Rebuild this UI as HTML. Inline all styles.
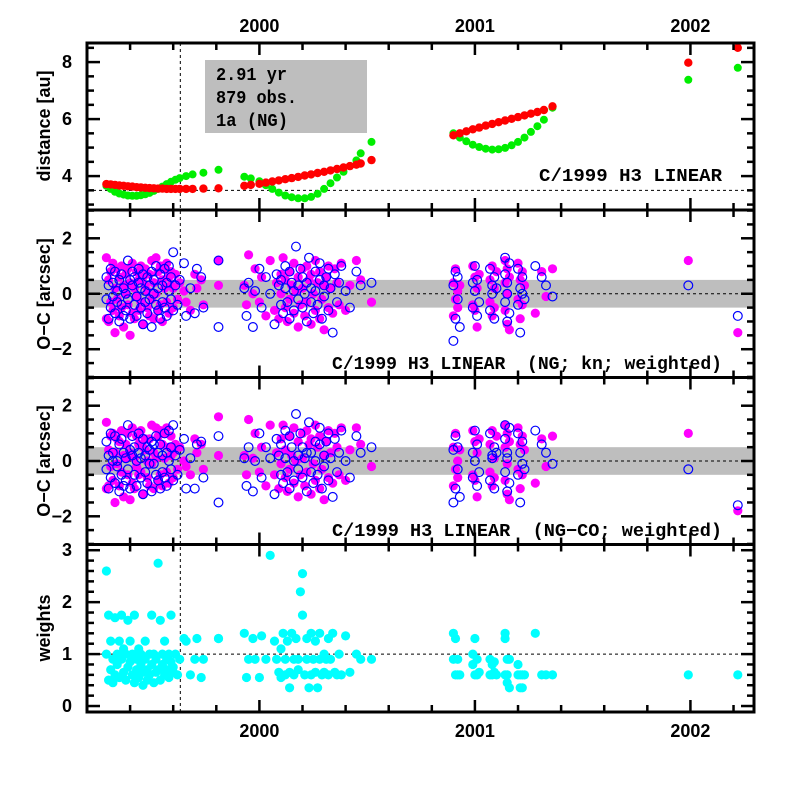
<!DOCTYPE html>
<html><head><meta charset="utf-8"><style>
html,body{margin:0;padding:0;background:#fff;}
svg{display:block;}
.tl{font-family:"Liberation Sans",sans-serif;font-weight:bold;font-size:18px;fill:#000;}
.an{font-family:"Liberation Mono",monospace;font-weight:bold;font-size:18px;fill:#000;white-space:pre;}
</style></head><body>
<svg id="chart" width="797" height="797" viewBox="0 0 797 797" xmlns="http://www.w3.org/2000/svg">
<g id="bg"></g>
<g id="marks"></g>
<g id="axes"></g>
<g id="txt"></g>
</svg>
<script>
// ---- distance panel data ----
const distTimes = [1999.29,1999.31,1999.33,1999.35,1999.37,1999.39,1999.41,1999.43,1999.45,1999.47,1999.49,1999.51,1999.53,1999.55,1999.57,1999.59,1999.61,1999.63,1999.66,1999.69,1999.74,1999.81,
1999.93,1999.96,2000.00,2000.03,2000.06,2000.09,2000.12,2000.15,2000.18,2000.21,2000.24,2000.27,2000.30,2000.33,2000.36,2000.39,2000.42,2000.45,2000.47,2000.52,
2000.90,2000.93,2000.96,2000.99,2001.02,2001.05,2001.08,2001.11,2001.14,2001.17,2001.20,2001.23,2001.26,2001.29,2001.32,2001.36,
2001.99,2002.22];
const distRed = [3.72,3.71,3.69,3.67,3.66,3.64,3.63,3.61,3.60,3.59,3.58,3.57,3.56,3.56,3.55,3.55,3.55,3.55,3.55,3.55,3.56,3.57,
3.66,3.69,3.73,3.77,3.81,3.85,3.89,3.93,3.97,4.02,4.06,4.11,4.15,4.20,4.25,4.30,4.35,4.40,4.44,4.56,
5.43,5.50,5.57,5.64,5.70,5.77,5.83,5.89,5.95,6.01,6.07,6.13,6.19,6.25,6.32,6.45,
7.98,8.50];
const distGreen = [3.66,3.55,3.45,3.39,3.35,3.32,3.31,3.31,3.33,3.36,3.41,3.48,3.55,3.63,3.72,3.80,3.87,3.93,4.00,4.06,4.12,4.22,
3.98,3.92,3.82,3.68,3.55,3.42,3.32,3.26,3.22,3.22,3.27,3.38,3.55,3.75,3.95,4.15,4.35,4.55,4.80,5.20,
5.50,5.35,5.22,5.10,5.02,4.96,4.93,4.94,4.99,5.08,5.20,5.35,5.55,5.75,5.98,6.40,
7.38,7.80];
// ---- observation times ----
const obsTimes = [1999.29,1999.29,1999.30,1999.30,1999.31,1999.31,1999.32,1999.32,1999.33,1999.33,1999.34,1999.34,1999.35,1999.35,1999.36,1999.36,1999.37,1999.37,1999.38,1999.38,1999.39,1999.39,1999.40,1999.40,1999.41,1999.41,1999.42,1999.42,1999.43,1999.43,1999.44,1999.44,1999.45,1999.45,1999.46,1999.46,1999.47,1999.47,1999.48,1999.48,1999.49,1999.49,1999.50,1999.50,1999.51,1999.51,1999.52,1999.52,1999.53,1999.53,1999.54,1999.54,1999.55,1999.55,1999.56,1999.56,1999.57,1999.57,1999.58,1999.58,1999.59,1999.59,1999.60,1999.60,1999.61,1999.62,1999.63,
1999.65,1999.66,1999.68,1999.70,1999.71,1999.73,1999.74,1999.81,1999.81,
1999.93,1999.94,1999.95,1999.97,1999.98,2000.00,2000.01,2000.03,2000.05,2000.07,2000.08,2000.09,2000.10,2000.10,2000.11,2000.12,2000.12,2000.13,2000.14,2000.14,2000.15,2000.16,2000.16,2000.17,2000.18,2000.18,2000.19,2000.20,2000.20,2000.21,2000.22,2000.22,2000.23,2000.24,2000.24,2000.25,2000.26,2000.26,2000.27,2000.28,2000.28,2000.29,2000.30,2000.30,2000.31,2000.32,2000.32,2000.33,2000.34,2000.35,2000.36,2000.37,2000.38,2000.40,2000.42,2000.45,2000.47,2000.52,
2000.90,2000.90,2000.91,2000.91,2000.92,2000.92,2000.93,2000.99,2000.99,2001.00,2001.00,2001.01,2001.01,2001.02,2001.07,2001.07,2001.08,2001.08,2001.09,2001.09,2001.10,2001.14,2001.14,2001.14,2001.15,2001.15,2001.15,2001.16,2001.16,2001.20,2001.20,2001.21,2001.21,2001.22,2001.22,2001.23,2001.28,2001.31,2001.33,2001.36,
2001.99,2002.22];
const ocMagentaKn = [1.3,-0.9,0.5,-1.0,0.8,-0.3,1.1,-0.6,0.2,-1.4,0.9,-0.2,0.6,-0.8,1.0,-0.5,0.3,-1.2,0.7,0.0,-0.4,0.9,-1.5,0.4,1.1,-0.7,0.2,-0.9,0.8,-0.1,0.5,-0.6,1.0,-0.3,0.6,-1.1,0.3,0.9,-0.5,0.1,-0.8,0.7,1.2,-0.2,0.4,-0.9,1.3,0.0,-0.6,0.8,1.0,-0.4,0.5,-1.0,0.2,0.9,-0.3,1.1,0.6,-0.7,0.3,0.8,-0.5,0.2,0.7,-0.2,0.4,
0.1,-0.3,-0.6,0.7,0.2,0.5,-0.4,1.2,0.3,
0.3,-0.4,1.4,0.0,0.9,-0.3,0.6,-0.8,1.2,-0.6,0.4,-0.9,0.7,0.0,1.3,-0.5,0.5,-1.0,0.8,-0.2,0.3,1.1,-0.7,0.1,-1.2,0.6,-0.4,0.9,0.2,-0.8,1.0,-0.3,0.5,-1.1,0.7,0.0,-0.6,1.2,0.4,-0.9,0.8,-0.2,0.3,-1.3,0.6,1.0,-0.5,0.2,-0.7,0.9,0.4,-0.4,1.1,-0.6,0.3,1.2,0.5,-0.3,
-0.8,0.4,-0.2,0.9,-0.5,0.1,0.3,-0.4,1.0,0.6,-0.6,0.2,-1.2,0.7,0.5,-0.3,1.0,-0.8,0.2,-0.5,0.8,1.2,-0.6,0.4,-1.1,0.9,0.0,-1.3,0.6,1.1,-0.2,0.5,-0.9,0.8,-0.4,0.3,-0.7,0.8,-0.1,0.9,
1.2,-1.4];
const ocBlueKn = [-0.2,0.6,-0.9,0.3,-0.5,0.9,-0.1,0.4,-0.7,0.8,-0.3,0.1,-1.0,0.5,-0.4,0.7,-0.8,0.2,0.0,-0.6,1.2,-0.2,0.5,-0.9,0.3,0.8,-0.4,0.6,-0.1,-0.8,0.4,0.9,-0.5,0.2,-1.1,0.7,-0.3,0.1,0.6,-0.7,0.3,-0.2,0.8,-1.2,0.5,0.0,-0.4,1.0,-0.6,0.2,-0.9,0.7,0.3,-0.3,0.9,-0.5,0.4,-0.8,0.1,1.0,-0.2,0.6,-0.6,1.5,0.3,-0.4,0.5,
1.1,-0.8,0.2,-0.7,0.9,0.6,-0.5,1.2,-1.2,
0.2,-0.8,0.4,-1.2,0.1,0.9,-0.5,0.6,0.0,-1.1,0.7,0.3,-0.4,0.5,-0.7,1.0,0.2,-0.3,0.8,-0.9,0.4,0.1,-0.6,1.7,0.3,-0.2,0.9,-0.5,0.6,0.0,-1.0,0.4,1.3,-0.3,0.2,-0.7,0.8,0.1,-0.4,0.5,1.1,-0.9,0.3,-0.1,0.6,-0.6,0.9,0.2,-1.4,0.7,-0.3,0.4,1.0,0.1,-0.5,0.8,0.3,0.4,
-1.7,0.3,-0.9,0.8,-0.2,0.6,-1.2,0.4,-0.5,1.0,0.1,-0.8,0.5,-0.3,0.9,-0.6,0.3,0.0,-0.9,0.6,0.2,1.3,-0.3,0.7,-1.0,0.4,0.0,-0.7,1.1,0.9,-0.4,0.2,-1.4,0.6,0.0,-0.2,1.0,0.6,0.3,-0.1,
0.3,-0.8];
const ocMagentaCo = [1.4,-1.0,0.4,-0.9,0.9,-0.2,1.0,-0.7,0.3,-1.5,0.8,-0.1,0.7,-0.9,1.1,-0.4,0.2,-1.3,0.6,0.1,-0.5,1.0,-1.4,0.3,1.2,-0.8,0.1,-1.0,0.9,-0.2,0.6,-0.5,1.1,-0.4,0.5,-1.2,0.4,0.8,-0.6,0.0,-0.9,0.8,1.3,-0.1,0.3,-1.0,1.2,0.1,-0.7,0.9,1.1,-0.5,0.6,-0.9,0.1,1.0,-0.4,1.2,0.5,-0.8,0.2,0.9,-0.6,0.3,0.6,-0.3,0.5,
0.0,-0.2,-0.5,0.8,0.3,0.6,-0.3,1.6,0.2,
0.2,-0.5,1.5,0.1,1.0,-0.4,0.5,-0.9,1.3,-0.5,0.3,-1.0,0.8,-0.1,1.3,-0.6,0.4,-1.1,0.9,-0.3,0.2,1.2,-0.8,0.0,-1.3,0.7,-0.5,1.0,0.1,-0.9,1.1,-0.4,0.6,-1.2,0.8,-0.1,-0.7,1.3,0.5,-1.0,0.9,-0.3,0.2,-1.4,0.7,1.1,-0.6,0.3,-0.8,1.0,0.5,-0.5,1.2,-0.7,0.4,1.2,0.6,-0.2,
-0.9,0.5,-0.3,1.0,-0.6,0.0,0.4,-0.5,1.1,0.7,-0.7,0.3,-1.3,0.8,0.6,-0.4,1.1,-0.9,0.1,-0.6,0.9,1.3,-0.7,0.5,-1.2,1.0,-0.1,-1.4,0.7,1.2,-0.3,0.6,-1.0,0.9,-0.5,0.4,-0.8,0.8,-0.2,0.9,
1.0,-1.8];
const ocBlueCo = [-0.3,0.7,-1.0,0.2,-0.6,1.0,0.0,0.3,-0.8,0.9,-0.2,0.0,-1.1,0.6,-0.5,0.8,-0.9,0.3,0.1,-0.7,1.3,-0.3,0.4,-1.0,0.2,0.9,-0.5,0.5,0.0,-0.9,0.3,1.0,-0.6,0.1,-1.2,0.8,-0.4,0.2,0.5,-0.8,0.4,-0.1,0.7,-1.1,0.6,-0.1,-0.5,0.9,-0.7,0.3,-1.0,0.6,0.2,-0.4,1.0,-0.6,0.3,-0.9,0.0,1.1,-0.3,0.5,-0.7,1.3,0.2,-0.5,0.4,
0.8,-1.0,0.1,-1.0,0.6,0.7,-0.6,0.9,-1.5,
0.1,-0.9,0.5,-1.1,0.0,1.0,-0.6,0.5,0.1,-1.2,0.8,0.2,-0.5,0.6,-0.8,1.1,0.1,-0.4,0.9,-1.0,0.5,0.0,-0.7,1.7,0.2,-0.3,1.0,-0.6,0.5,0.1,-1.1,0.3,1.4,-0.4,0.3,-0.8,0.7,0.0,-0.5,0.6,1.2,-1.0,0.2,-0.2,0.7,-0.7,1.0,0.1,-1.3,0.8,-0.4,0.3,1.1,0.0,-0.6,0.9,0.3,0.5,
-1.5,0.4,-1.0,0.9,-0.3,0.5,-1.3,0.3,-0.6,1.1,0.0,-0.9,0.6,-0.4,1.0,-0.7,0.2,0.1,-1.0,0.5,0.3,1.3,-0.4,0.8,-1.1,0.3,0.1,-0.8,1.2,1.0,-0.5,0.3,-1.5,0.7,-0.1,-0.3,1.1,0.6,0.3,-0.1,
-0.3,-1.6];
const weightValues = [2.6,1.0,0.5,1.75,0.7,1.25,0.9,0.45,1.7,0.6,1.0,0.8,1.25,0.55,1.75,0.9,0.65,1.1,0.5,1.0,1.65,0.75,0.85,1.25,0.6,1.0,0.45,1.75,0.9,0.7,1.1,0.55,0.8,1.0,0.65,0.4,1.25,0.9,0.7,0.5,1.0,0.6,1.75,0.8,0.45,1.0,0.65,0.9,2.75,0.7,1.65,0.5,1.0,0.8,0.6,1.25,0.9,0.7,1.0,0.55,1.75,0.85,0.65,0.75,1.0,0.6,0.9,
1.3,1.25,0.6,0.9,1.3,0.55,0.9,1.3,1.3,
1.4,0.55,0.9,1.3,0.9,0.55,1.35,0.9,2.9,1.25,0.9,0.65,1.1,0.55,1.4,0.6,0.9,1.25,0.35,0.65,1.4,0.9,0.6,1.3,0.7,0.9,2.2,1.75,2.55,0.6,1.3,0.9,0.35,1.4,0.6,0.9,0.65,1.25,0.35,0.9,1.4,0.6,1.0,0.65,0.9,1.3,0.6,0.9,1.4,0.65,0.6,1.0,0.6,1.35,0.65,1.0,0.9,0.9,
0.9,1.4,0.6,1.3,0.6,0.9,0.6,1.0,0.8,0.6,1.3,0.6,0.9,0.65,0.9,0.6,0.8,0.6,0.65,0.85,0.6,1.4,0.6,1.3,0.9,0.45,0.6,0.35,0.9,0.6,0.8,0.35,0.6,0.35,0.6,0.6,1.4,0.6,0.6,0.6,
0.6,0.6];
const yearTicks = [2000,2001,2002];
const distTicks = [4,6,8];
const ocTicks = [-2,0,2];
const weightTicks = [0,1,2,3];

const NS="http://www.w3.org/2000/svg";
const X0=87, X1=754, T0=1999.2, T1=2002.295;
const xs = t => X0 + (t-T0)/(T1-T0)*(X1-X0);
const panels = {
  dist:{top:43,bot:210,min:2.81,max:8.67},
  kn:{top:210,bot:377.5,min:-3.02,max:3.02},
  co:{top:377.5,bot:544.5,min:-3.02,max:3.02},
  w:{top:544.5,bot:712,min:-0.115,max:3.11}
};
const ys=(p,v)=>p.bot-(v-p.min)/(p.max-p.min)*(p.bot-p.top);
function el(tag,attrs,parent){const e=document.createElementNS(NS,tag);for(const k in attrs)e.setAttribute(k,attrs[k]);parent.appendChild(e);return e;}
const bg=document.getElementById('bg'),marks=document.getElementById('marks'),axes=document.getElementById('axes'),txt=document.getElementById('txt');

for(const key of ['kn','co']){const p=panels[key];
  const r=el('rect',{x:X0,y:ys(p,0.5),width:X1-X0,height:ys(p,-0.5)-ys(p,0.5),fill:'#bebebe'},bg);
  
  
  const l=el('line',{x1:X0,x2:X1,y1:ys(p,0),y2:ys(p,0),stroke:'#000','stroke-width':1,'stroke-dasharray':'3,3'},bg);
  
  
}
{const p=panels.dist;const l=el('line',{x1:X0,x2:X1,y1:ys(p,3.5),y2:ys(p,3.5),stroke:'#000','stroke-width':1,'stroke-dasharray':'3,3'},bg);
 
 
 const p2=panels.w;const l2=el('line',{x1:X0,x2:X1,y1:ys(p2,1),y2:ys(p2,1),stroke:'#000','stroke-width':1,'stroke-dasharray':'3,3'},bg);
 
 
 const v=el('line',{x1:xs(1999.633),x2:xs(1999.633),y1:43,y2:712,stroke:'#000','stroke-width':1,'stroke-dasharray':'3,3'},bg);
 
 
}
{const b=el('rect',{x:205,y:60,width:162,height:73,fill:'#bebebe'},bg);
 
 }

function dots(times,vals,p,name,attrs){
  const n=Math.min(times.length,vals.length);
  for(let i=0;i<n;i++){
    const c=el('circle',Object.assign({cx:xs(times[i]).toFixed(1),cy:ys(p,vals[i]).toFixed(1)},attrs),marks);
    
    
  }
}
dots(distTimes,distGreen,panels.dist,'distance-green-point',{r:4,fill:'#00ee00'});
dots(distTimes,distRed,panels.dist,'distance-red-point',{r:4.2,fill:'#ff0000'});
dots(obsTimes,ocMagentaKn,panels.kn,'oc-kn-magenta-point',{r:4.6,fill:'#ff00ff'});
dots(obsTimes,ocBlueKn,panels.kn,'oc-kn-blue-point',{r:4.4,fill:'none',stroke:'#0000ff','stroke-width':1.2});
dots(obsTimes,ocMagentaCo,panels.co,'oc-co-magenta-point',{r:4.6,fill:'#ff00ff'});
dots(obsTimes,ocBlueCo,panels.co,'oc-co-blue-point',{r:4.4,fill:'none',stroke:'#0000ff','stroke-width':1.2});
dots(obsTimes,weightValues,panels.w,'weight-point',{r:4.6,fill:'#00ffff'});

function ln(x1,y1,x2,y2,w){return el('line',{x1,y1,x2,y2,stroke:'#000','stroke-width':w},axes);}
for(const key in panels){const p=panels[key];
  const f=el('rect',{x:X0,y:p.top,width:X1-X0,height:p.bot-p.top,fill:'none',stroke:'#000','stroke-width':3},axes);
  
  
  for(let k=0;k<=15;k++){const t=T0+0.2*k; if(t>T1)break; const x=xs(t);
    const major=Math.abs(t-Math.round(t))<0.01; const L=major?12:7;
    ln(x,p.top,x,p.top+L,2.5); ln(x,p.bot,x,p.bot-L,2.5);}
  const step = key==='w'?0.2:0.5; const majorStep = key==='w'?1:2;
  const start=Math.ceil(p.min/step)*step;
  for(let v=start; v<=p.max+1e-6; v+=step){const y=ys(p,v);
    const r=v/majorStep; const major=Math.abs(r-Math.round(r))<0.01; const L=major?13:7;
    ln(X0,y,X0+L,y,2.5); ln(X1,y,X1-L,y,2.5);}
}
function text(x,y,s,cls,anchor,name,extra){const t=el('text',Object.assign({x,y,'class':cls,'text-anchor':anchor},extra||{}),txt);t.textContent=s;
  
  return t;}
for(const yr of yearTicks){text(xs(yr),32,String(yr),'tl','middle','x-top-tick-label');text(xs(yr),737,String(yr),'tl','middle','x-bottom-tick-label');}
for(const v of distTicks)text(72,ys(panels.dist,v)+6,String(v),'tl','end','distance-tick-label');
for(const key of ['kn','co'])for(const v of ocTicks)text(72,ys(panels[key],v)+6,v<0?'\u2212'+Math.abs(v):String(v),'tl','end','oc-tick-label');
for(const v of weightTicks)text(72,ys(panels.w,v)+6,String(v),'tl','end','weights-tick-label');
function ytitle(cy,s,name){return text(0,0,s,'tl','middle',name,{transform:'translate(50,'+cy+') rotate(-90)'});}
ytitle(126,'distance [au]','distance-axis-title');
ytitle(294,'O\u2212C [arcsec]','oc-kn-axis-title');
ytitle(461,'O\u2212C [arcsec]','oc-co-axis-title');
ytitle(628,'weights','weights-axis-title');
function ann(x,y,s,len,name){return text(x,y,s,'an','start',name,{textLength:len,lengthAdjust:'spacingAndGlyphs'});}
ann(216,80,'2.91 yr',71,'arc-length-label');
ann(216,103,'879 obs.',81,'obs-count-label');
ann(216,126,'1a (NG)',72,'model-label');
ann(539,181,'C/1999 H3 LINEAR',183,'distance-panel-title');
ann(332,369,'C/1999 H3 LINEAR  (NG; kn; weighted)',390,'oc-kn-panel-title');
ann(332,536,'C/1999 H3 LINEAR  (NG\u2212CO; weighted)',390,'oc-co-panel-title');
</script>
</body></html>
